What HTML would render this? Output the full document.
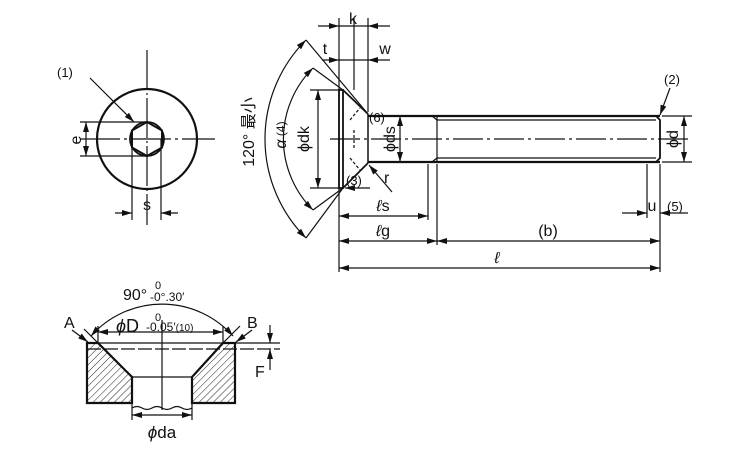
<!DOCTYPE html>
<html><head><meta charset="utf-8"><style>
html,body{margin:0;padding:0;background:#fff;}
svg{display:block;font-family:"Liberation Sans","Noto Sans CJK JP",sans-serif;}
</style></head><body>
<svg width="750" height="450" viewBox="0 0 750 450" xmlns="http://www.w3.org/2000/svg">
<defs>
<marker id="a" viewBox="0 0 10 6" refX="10" refY="3" markerWidth="11" markerHeight="6" orient="auto-start-reverse" markerUnits="userSpaceOnUse"><path d="M0,0L10,3L0,6z" fill="#111"/></marker>
<pattern id="h" width="5" height="5" patternUnits="userSpaceOnUse" patternTransform="rotate(45)"><line x1="0" y1="0" x2="0" y2="5" stroke="#222" stroke-width="1"/></pattern>
</defs>
<g fill="none" stroke="#111" stroke-width="1.2">
<!-- LEFT VIEW -->
<circle cx="147" cy="139" r="50" stroke-width="2.2"/>
<polygon points="147,122 162,130.5 162,147.5 147,156 132,147.5 132,130.5" stroke-width="2"/>
<circle cx="147" cy="139" r="17" stroke-width="1.8"/>
<line x1="147" y1="50" x2="147" y2="225" stroke-dasharray="40,3,2,3"/>
<line x1="80" y1="139" x2="215" y2="139" stroke-dasharray="40,4,3,4"/>
<line x1="80" y1="122" x2="147" y2="122"/><line x1="80" y1="156" x2="147" y2="156"/>
<line x1="86" y1="122" x2="86" y2="156" marker-start="url(#a)" marker-end="url(#a)"/>
<line x1="132" y1="139" x2="132" y2="220"/><line x1="161" y1="139" x2="161" y2="220"/>
<line x1="115" y1="213" x2="132" y2="213" marker-end="url(#a)"/>
<line x1="178" y1="213" x2="161" y2="213" marker-end="url(#a)"/>
<line x1="90" y1="78" x2="134" y2="122" marker-end="url(#a)"/>

<!-- SIDE VIEW head -->
<rect x="339" y="90" width="4" height="98" stroke-width="1.8"/>
<line x1="343" y1="90" x2="368" y2="114" stroke-width="1.8"/>
<line x1="343" y1="188" x2="368" y2="163" stroke-width="1.8"/>
<line x1="368" y1="114" x2="368" y2="163" stroke-width="1.5"/>
<line x1="350" y1="120" x2="360" y2="108" stroke-dasharray="3,2"/>
<line x1="350" y1="158" x2="360" y2="170" stroke-dasharray="3,2"/>
<line x1="354" y1="130" x2="354" y2="150" stroke-dasharray="3,2"/>
<!-- shank -->
<line x1="368" y1="116" x2="432" y2="116" stroke-width="2.2"/>
<line x1="368" y1="162" x2="432" y2="162" stroke-width="2.2"/>
<line x1="432" y1="116" x2="437" y2="120"/><line x1="432" y1="162" x2="437" y2="158"/>
<line x1="432" y1="116" x2="660" y2="116" stroke-width="2.2"/>
<line x1="432" y1="162" x2="660" y2="162" stroke-width="2.2"/>
<line x1="437" y1="120" x2="656" y2="120"/><line x1="437" y1="158" x2="656" y2="158"/>
<line x1="437" y1="116" x2="437" y2="162"/>
<path d="M656,116 L660,120 L660,158 L656,162" stroke-width="1.8"/>
<line x1="330" y1="139" x2="690" y2="139" stroke-dasharray="30,4,3,4"/>
<!-- k t w -->
<line x1="339" y1="18" x2="339" y2="272"/>
<line x1="354" y1="18" x2="354" y2="90"/>
<line x1="368" y1="18" x2="368" y2="112"/>
<line x1="318" y1="26" x2="339" y2="26" marker-end="url(#a)"/>
<line x1="390" y1="26" x2="368" y2="26" marker-end="url(#a)"/>
<line x1="339" y1="26" x2="368" y2="26"/>
<line x1="322" y1="60" x2="339" y2="60" marker-end="url(#a)"/>
<line x1="390" y1="60" x2="368" y2="60" marker-end="url(#a)"/>
<line x1="339" y1="60" x2="368" y2="60"/>
<!-- cone extension lines -->
<line x1="306" y1="40" x2="368" y2="114"/>
<line x1="313" y1="68" x2="343" y2="90"/>
<line x1="306" y1="238" x2="343" y2="188"/>
<line x1="313" y1="210" x2="343" y2="188"/>
<!-- dk -->
<line x1="310" y1="90" x2="339" y2="90"/><line x1="310" y1="188" x2="339" y2="188"/>
<line x1="318" y1="90" x2="318" y2="188" marker-start="url(#a)" marker-end="url(#a)"/>
<!-- arcs -->
<path d="M313,68 A100,100 0 0 0 313,210" marker-start="url(#a)" marker-end="url(#a)"/>
<path d="M306,40 A140,140 0 0 0 306,238" marker-start="url(#a)" marker-end="url(#a)"/>
<!-- ds -->
<line x1="400" y1="116" x2="400" y2="162" marker-start="url(#a)" marker-end="url(#a)"/>
<!-- r -->
<line x1="392" y1="192" x2="369" y2="165" marker-end="url(#a)"/>
<line x1="370" y1="188" x2="345" y2="188" marker-end="url(#a)"/>
<!-- d -->
<line x1="662" y1="116" x2="692" y2="116"/><line x1="662" y1="162" x2="692" y2="162"/>
<line x1="684" y1="116" x2="684" y2="162" marker-start="url(#a)" marker-end="url(#a)"/>
<line x1="670" y1="88" x2="660" y2="115" marker-end="url(#a)"/>
<!-- extension -->
<line x1="428" y1="164" x2="428" y2="220"/>
<line x1="437" y1="164" x2="437" y2="245"/>
<line x1="660" y1="164" x2="660" y2="272"/>
<line x1="647" y1="164" x2="647" y2="218"/>
<line x1="622" y1="213" x2="647" y2="213" marker-end="url(#a)"/>
<line x1="688" y1="213" x2="660" y2="213" marker-end="url(#a)"/>
<line x1="339" y1="216" x2="428" y2="216" marker-start="url(#a)" marker-end="url(#a)"/>
<line x1="339" y1="241" x2="437" y2="241" marker-start="url(#a)" marker-end="url(#a)"/>
<line x1="437" y1="241" x2="660" y2="241" marker-start="url(#a)" marker-end="url(#a)"/>
<line x1="339" y1="268" x2="660" y2="268" marker-start="url(#a)" marker-end="url(#a)"/>

<!-- BOTTOM -->
<polygon points="87,343 98,343 132,377 132,403 87,403" fill="url(#h)" stroke-width="2.2"/>
<polygon points="235,343 223,343 192,377 192,403 235,403" fill="url(#h)" stroke-width="2.2"/>
<line x1="98" y1="343" x2="223" y2="343"/>
<line x1="87" y1="349" x2="280" y2="349" stroke-dasharray="14,3"/>
<line x1="223" y1="343" x2="280" y2="343"/>
<line x1="132" y1="377" x2="192" y2="377"/>
<line x1="132" y1="403" x2="132" y2="420"/><line x1="192" y1="403" x2="192" y2="420"/>
<path d="M132,408 q5,-3 10,0 t10,0 t10,0 t10,0 t10,0 t10,0"/>
<line x1="162" y1="320" x2="162" y2="410"/>
<line x1="132" y1="415" x2="192" y2="415" marker-start="url(#a)" marker-end="url(#a)"/>
<line x1="98" y1="332" x2="223" y2="332" marker-start="url(#a)" marker-end="url(#a)"/>
<line x1="98" y1="343" x2="98" y2="326"/><line x1="223" y1="343" x2="223" y2="326"/>
<line x1="98" y1="343" x2="84" y2="329"/><line x1="223" y1="343" x2="240" y2="326"/>
<path d="M91,336 A95,95 0 0 1 233,336" marker-start="url(#a)" marker-end="url(#a)"/>
<line x1="72" y1="330" x2="88" y2="342" marker-end="url(#a)"/>
<line x1="252" y1="330" x2="236" y2="342" marker-end="url(#a)"/>
<line x1="270" y1="325" x2="270" y2="343" marker-end="url(#a)"/>
<line x1="270" y1="370" x2="270" y2="349" marker-end="url(#a)"/>
</g>

<g fill="#111" font-size="16">
<text x="57" y="77" font-size="13">(1)</text>
<text x="77" y="140" transform="rotate(-90 77 140)" text-anchor="middle" dominant-baseline="middle">e</text>
<text x="147" y="210" text-anchor="middle">s</text>
<text x="353" y="24" text-anchor="middle">k</text>
<text x="325" y="54" text-anchor="middle">t</text>
<text x="385" y="54" text-anchor="middle">w</text>
<text x="369" y="122" font-size="13">(6)</text>
<text x="346" y="185" font-size="13">(3)</text>
<text x="384" y="183">r</text>
<text x="305" y="139" transform="rotate(-90 305 139)" text-anchor="middle" dominant-baseline="middle">ϕdk</text>
<text x="282" y="135" transform="rotate(-90 282 135)" text-anchor="middle" dominant-baseline="middle"><tspan font-style="italic">α</tspan><tspan font-size="12"> (4)</tspan></text>
<text x="250" y="132" transform="rotate(-90 250 132)" text-anchor="middle" dominant-baseline="middle">120° 最小</text>
<text x="391" y="139" transform="rotate(-90 391 139)" text-anchor="middle" dominant-baseline="middle">ϕds</text>
<text x="674" y="139" transform="rotate(-90 674 139)" text-anchor="middle" dominant-baseline="middle">ϕd</text>
<text x="672" y="84" font-size="13" text-anchor="middle">(2)</text>
<text x="652" y="211" text-anchor="middle">u</text>
<text x="667" y="211" font-size="13">(5)</text>
<text x="383" y="211" text-anchor="middle" font-style="italic">ℓ<tspan font-style="normal">s</tspan></text>
<text x="383" y="236" text-anchor="middle" font-style="italic">ℓ<tspan font-style="normal">g</tspan></text>
<text x="548" y="236" text-anchor="middle">(b)</text>
<text x="497" y="263" text-anchor="middle" font-style="italic">ℓ</text>
<text x="123" y="300">90°</text>
<text x="155" y="289" font-size="11">0</text>
<text x="150" y="301" font-size="12">-0°.30′</text>
<text x="116" y="332" font-size="18"><tspan font-style="italic">ϕ</tspan>D</text>
<text x="155" y="321" font-size="11">0</text>
<text x="146" y="331" font-size="12">-0.05′<tspan font-size="10">(10)</tspan></text>
<text x="64" y="328">A</text>
<text x="247" y="328">B</text>
<text x="255" y="377">F</text>
<text x="162" y="438" text-anchor="middle" font-size="17"><tspan font-style="italic">ϕ</tspan>da</text>
</g>
</svg>
</body></html>
